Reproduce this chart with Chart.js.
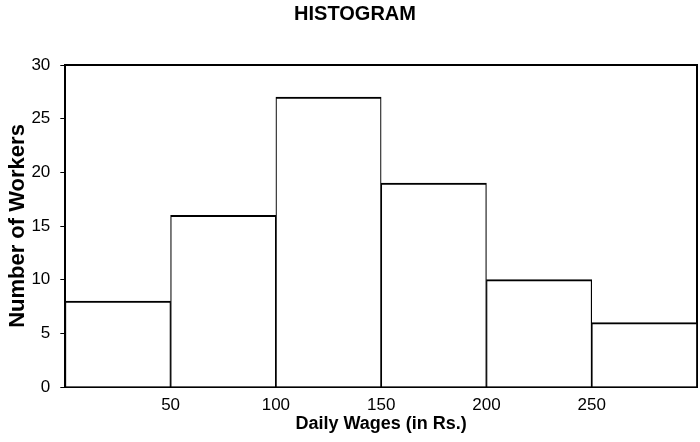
<!DOCTYPE html>
<html>
<head>
<meta charset="utf-8">
<script src="https://cdn.jsdelivr.net/npm/chart.js@4"></script>
<style>
  body { margin: 0; background: #fff; }
  #wrap { width: 700px; height: 442px; }
</style>
</head>
<body>
<div id="wrap"><canvas id="myHist" width="700" height="442"></canvas></div>
<script>
// class intervals 0-50, 50-100, ... drawn at their mid points
const classMids = [25, 75, 125, 175, 225, 275];
const workers = [8, 16, 27, 19, 10, 6];
const xTickValues = [50, 100, 150, 200, 250];
const yTickValues = [0, 5, 10, 15, 20, 25, 30];

const ctx = document.getElementById('myHist');
const myHist = new Chart(ctx, {
    type: 'bar',
    data: {
        datasets: [{
            label: 'Number of Workers',
            data: classMids.map((m, i) => ({ x: m, y: workers[i] })),
            backgroundColor: '#ffffff',
            borderColor: '#000000',
            borderWidth: { top: 2, left: 1.2, right: 1.2, bottom: 0 },
            borderSkipped: false,
            barPercentage: 1,
            categoryPercentage: 1
        }]
    },
    options: {
        responsive: false,
        animation: false,
        layout: { padding: { left: 5, right: -5, top: 0, bottom: 7 } },
        plugins: {
            legend: { display: false },
            tooltip: { enabled: false },
            title: {
                display: true,
                text: 'HISTOGRAM',
                color: '#000',
                font: { family: 'Liberation Sans, Arial', size: 20, weight: 'bold' },
                padding: { top: 2, bottom: 31 }
            }
        },
        scales: {
            x: {
                type: 'linear',
                offset: false,
                z: 1,
                min: 0,
                max: 300,
                afterBuildTicks: axis => { axis.ticks = xTickValues.map(v => ({ value: v })); },
                ticks: {
                    color: '#000',
                    font: { family: 'Liberation Sans, Arial', size: 17 },
                    padding: 0,
                    maxRotation: 0
                },
                grid: { display: false },
                border: { display: true, color: '#000', width: 2 },
                title: {
                    display: true,
                    text: 'Daily Wages (in Rs.)',
                    color: '#000',
                    font: { family: 'Liberation Sans, Arial', size: 18, weight: 'bold' },
                    padding: { top: -2, bottom: 0 }
                }
            },
            x2: {
                type: 'linear',
                position: 'top',
                offset: false,
                z: 1,
                min: 0,
                max: 300,
                ticks: { display: false },
                grid: { display: false },
                border: { display: true, color: '#000', width: 2 }
            },
            y: {
                min: 0,
                max: 30,
                z: 1,
                afterBuildTicks: axis => { axis.ticks = yTickValues.map(v => ({ value: v })); },
                ticks: {
                    color: '#000',
                    font: { family: 'Liberation Sans, Arial', size: 17 },
                    padding: 10
                },
                grid: { drawOnChartArea: false, tickLength: 5, color: '#000', lineWidth: 1 },
                border: { display: true, color: '#000', width: 2 },
                title: {
                    display: true,
                    text: 'Number of Workers',
                    color: '#000',
                    font: { family: 'Liberation Sans, Arial', size: 22, weight: 'bold' },
                    padding: { top: 0, bottom: -10 }
                }
            },
            y2: {
                position: 'right',
                min: 0,
                max: 30,
                z: 1,
                ticks: { display: false },
                grid: { display: false },
                border: { display: true, color: '#000', width: 2 }
            }
        }
    }
});
</script>
</body>
</html>
